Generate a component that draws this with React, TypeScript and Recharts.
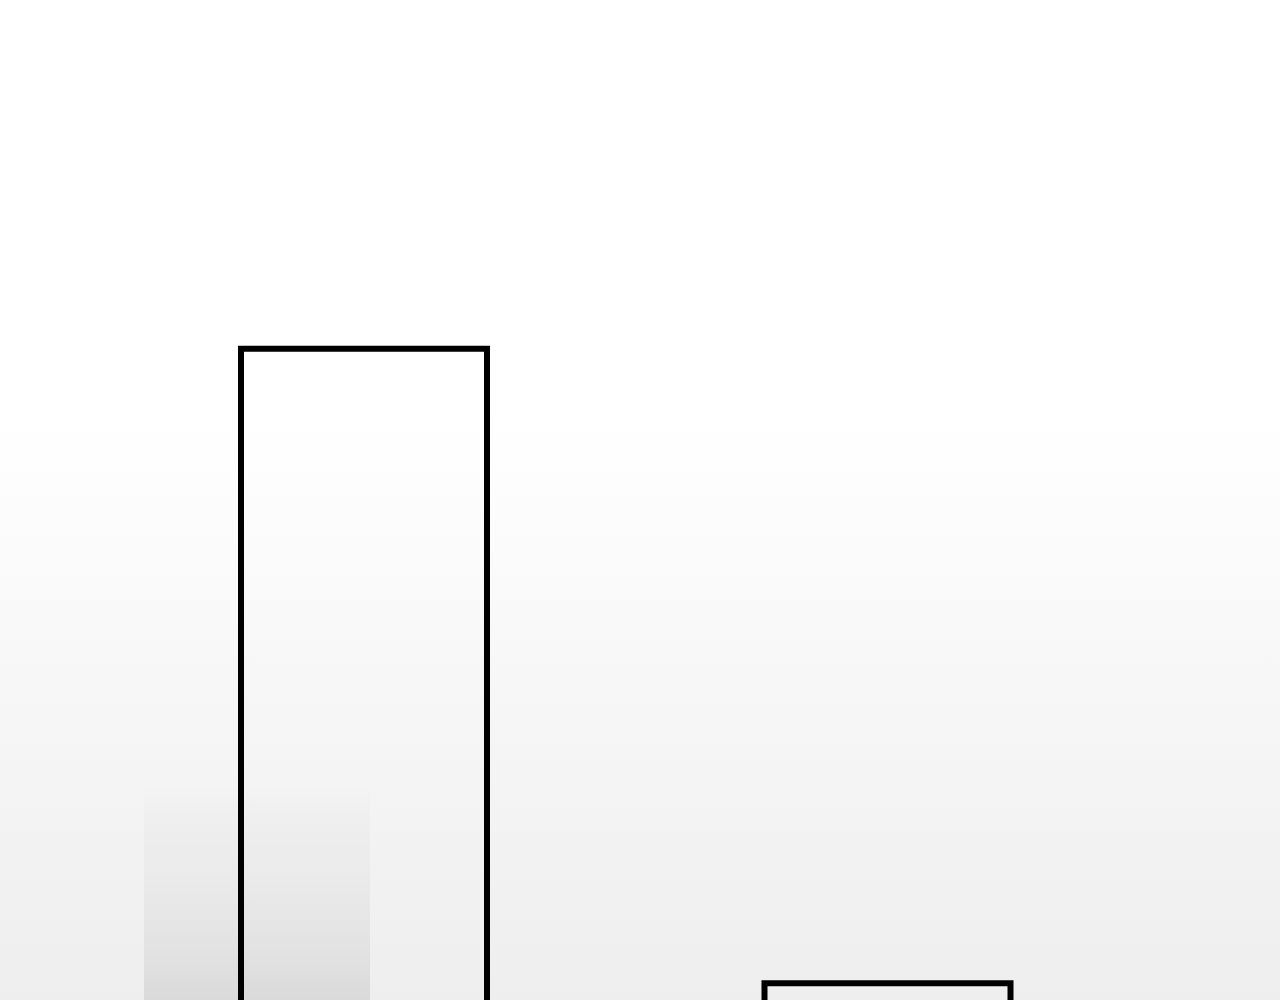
import React from "react";
import { BarChart, Bar, XAxis, YAxis } from "recharts";

const categories = ["A", "B"];
const values = [65.8, 3.6];

const data = categories.map((c, i) => ({ name: c, value: values[i] }));

export default function App() {
  return (
    <div
      style={{
        position: "absolute",
        top: 0,
        left: 0,
        width: 1280,
        height: 1000,
        overflow: "hidden",
        background:
          "linear-gradient(to bottom, #ffffff 0%, #ffffff 42%, #fbfbfb 55%, #f5f5f5 75%, #eeeeee 100%)",
      }}
    >
      <div
        style={{
          position: "absolute",
          left: 144,
          top: 785,
          width: 226,
          height: 215,
          background:
            "linear-gradient(to bottom, rgba(236,236,236,0) 0%, rgba(236,236,236,0.6) 15%, #ebebeb 40%, #e3e3e3 75%, #dadada 100%)",
        }}
      />
      <div style={{ position: "absolute", top: 0, left: 0 }}>
        <BarChart
          width={1280}
          height={1020}
          data={data}
          margin={{ top: 0, right: 131, bottom: 0, left: 102 }}
        >
          <XAxis dataKey="name" hide />
          <YAxis hide domain={[0, 100]} />
          <Bar
            dataKey="value"
            fill="none"
            stroke="#000000"
            strokeWidth={6}
            barSize={246}
            isAnimationActive={false}
          />
        </BarChart>
      </div>
    </div>
  );
}
